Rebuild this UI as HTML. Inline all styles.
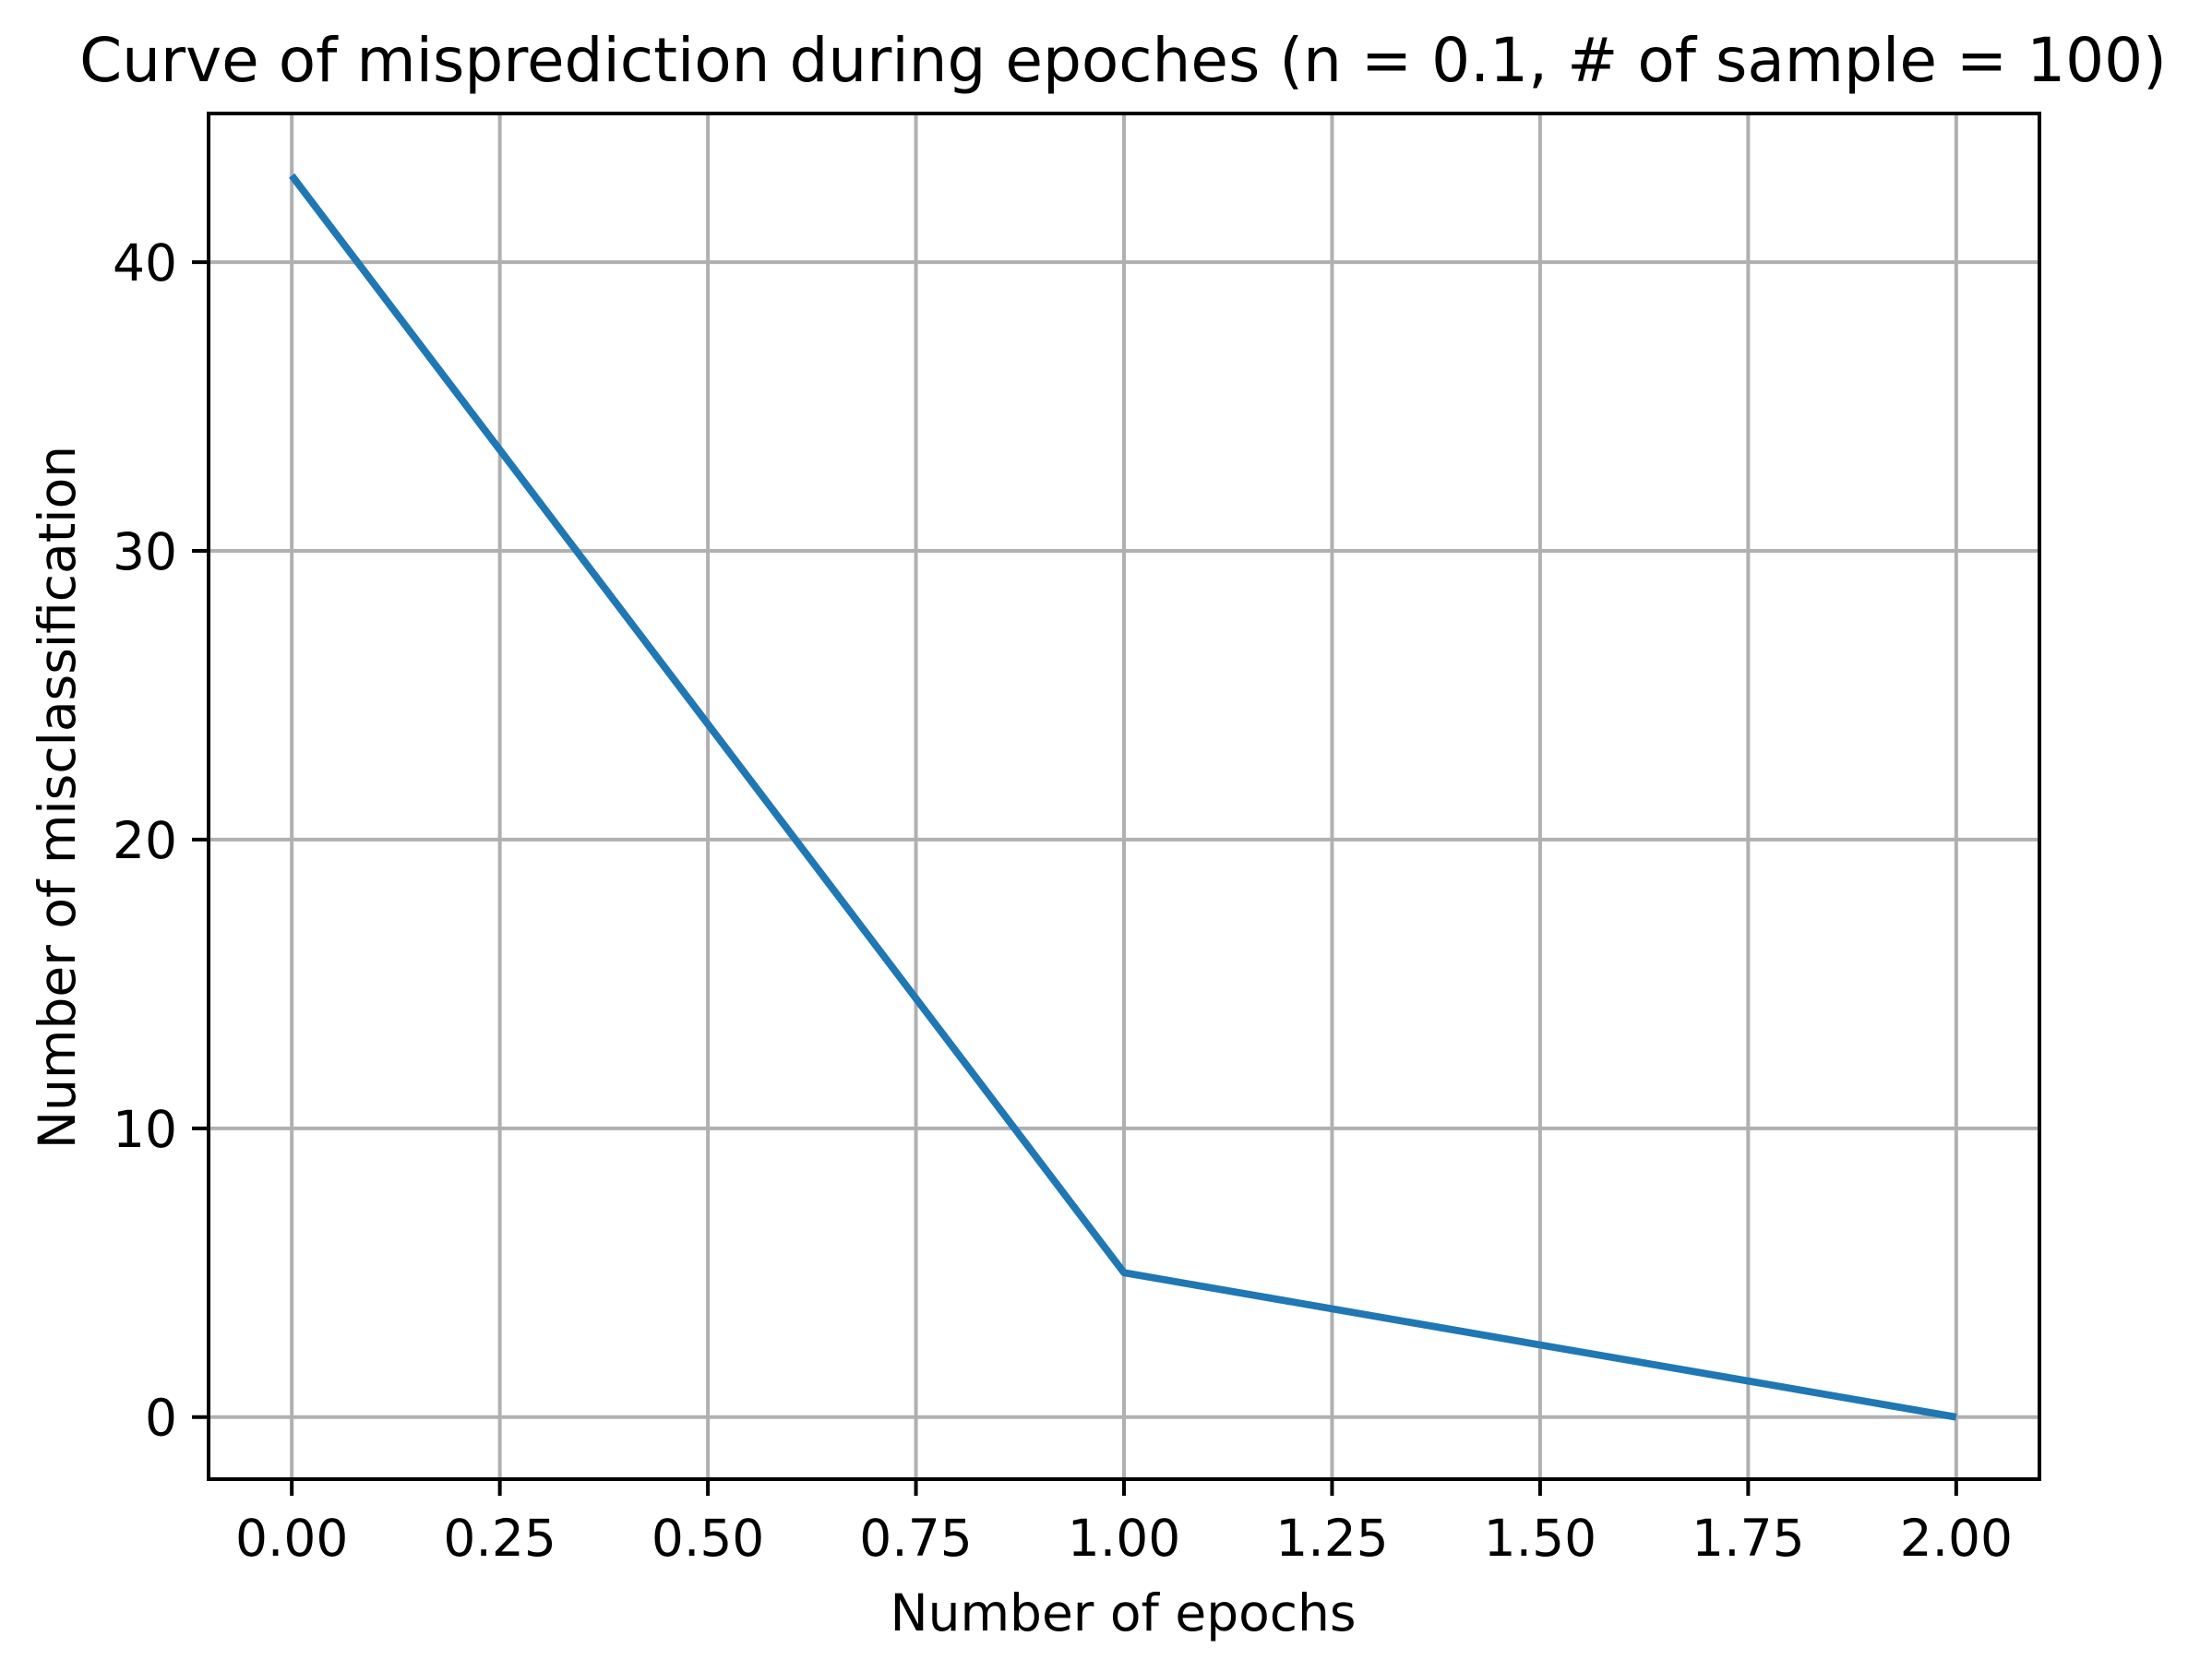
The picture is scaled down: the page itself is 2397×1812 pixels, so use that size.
<!DOCTYPE html>
<html><head><meta charset="utf-8"><style>
html,body{margin:0;padding:0;background:#fff;}
svg{display:block;font-family:"DejaVu Sans","Liberation Sans",sans-serif;}
</style></head><body>
<svg id="chart" width="2397" height="1812" viewBox="0 0 2397 1812" xmlns="http://www.w3.org/2000/svg">
<rect width="2397" height="1812" fill="#fff"/>
<g id="grid"></g><g id="series"></g><g id="axes"></g>
<text x="1217" y="88" font-size="66" text-anchor="middle">Curve of misprediction during epoches (n = 0.1, # of sample = 100)</text>
<text x="1217" y="1767" font-size="55" text-anchor="middle">Number of epochs</text>
<text x="0" y="0" font-size="55" text-anchor="middle" transform="translate(81,864) rotate(-90)">Number of misclassification</text>
</svg>
<script>
const epochs = [0, 1, 2];
const misclass = [43, 5, 0];
const xTicks = [0, 0.25, 0.5, 0.75, 1, 1.25, 1.5, 1.75, 2];
const xTickLabels = ["0.00","0.25","0.50","0.75","1.00","1.25","1.50","1.75","2.00"];
const yTicks = [0, 10, 20, 30, 40];
const yTickLabels = ["0","10","20","30","40"];

const L=226, R=2210, T=123, B=1603;
const xmin=-0.1, xmax=2.1, ymin=-2.15, ymax=45.15;
const X=v=>L+(v-xmin)/(xmax-xmin)*(R-L);
const Y=v=>B-(v-ymin)/(ymax-ymin)*(B-T);
const NS="http://www.w3.org/2000/svg";
function mk(tag,attrs,parent){const e=document.createElementNS(NS,tag);for(const k in attrs)e.setAttribute(k,attrs[k]);parent.appendChild(e);return e;}
const grid=document.getElementById('grid'), axes=document.getElementById('axes'), series=document.getElementById('series');

xTicks.forEach((t,i)=>{
  const g=mk('line',{x1:X(t),x2:X(t),y1:T,y2:B,stroke:'#b0b0b0','stroke-width':4},grid);
  
  
  const tk=mk('line',{x1:X(t),x2:X(t),y1:B,y2:B+18,stroke:'#000','stroke-width':4},axes);
  
  
  const tx=mk('text',{x:X(t),y:B+83,'font-size':55,'text-anchor':'middle'},axes);
  tx.textContent=xTickLabels[i];
  
  
});
yTicks.forEach((t,i)=>{
  const g=mk('line',{x1:L,x2:R,y1:Y(t),y2:Y(t),stroke:'#b0b0b0','stroke-width':4},grid);
  
  
  const tk=mk('line',{x1:L-18,x2:L,y1:Y(t),y2:Y(t),stroke:'#000','stroke-width':4},axes);
  
  
  const tx=mk('text',{x:L-34,y:Y(t)+20,'font-size':55,'text-anchor':'end'},axes);
  tx.textContent=yTickLabels[i];
  
  
});
const pts=epochs.map((e,i)=>X(e)+','+Y(misclass[i])).join(' ');
const line=mk('polyline',{points:pts,fill:'none',stroke:'#1f77b4','stroke-width':7.8,'stroke-linejoin':'round'},series);


const frame=mk('rect',{x:L,y:T,width:R-L,height:B-T,fill:'none',stroke:'#000','stroke-width':4},axes);


</script>
</body></html>
